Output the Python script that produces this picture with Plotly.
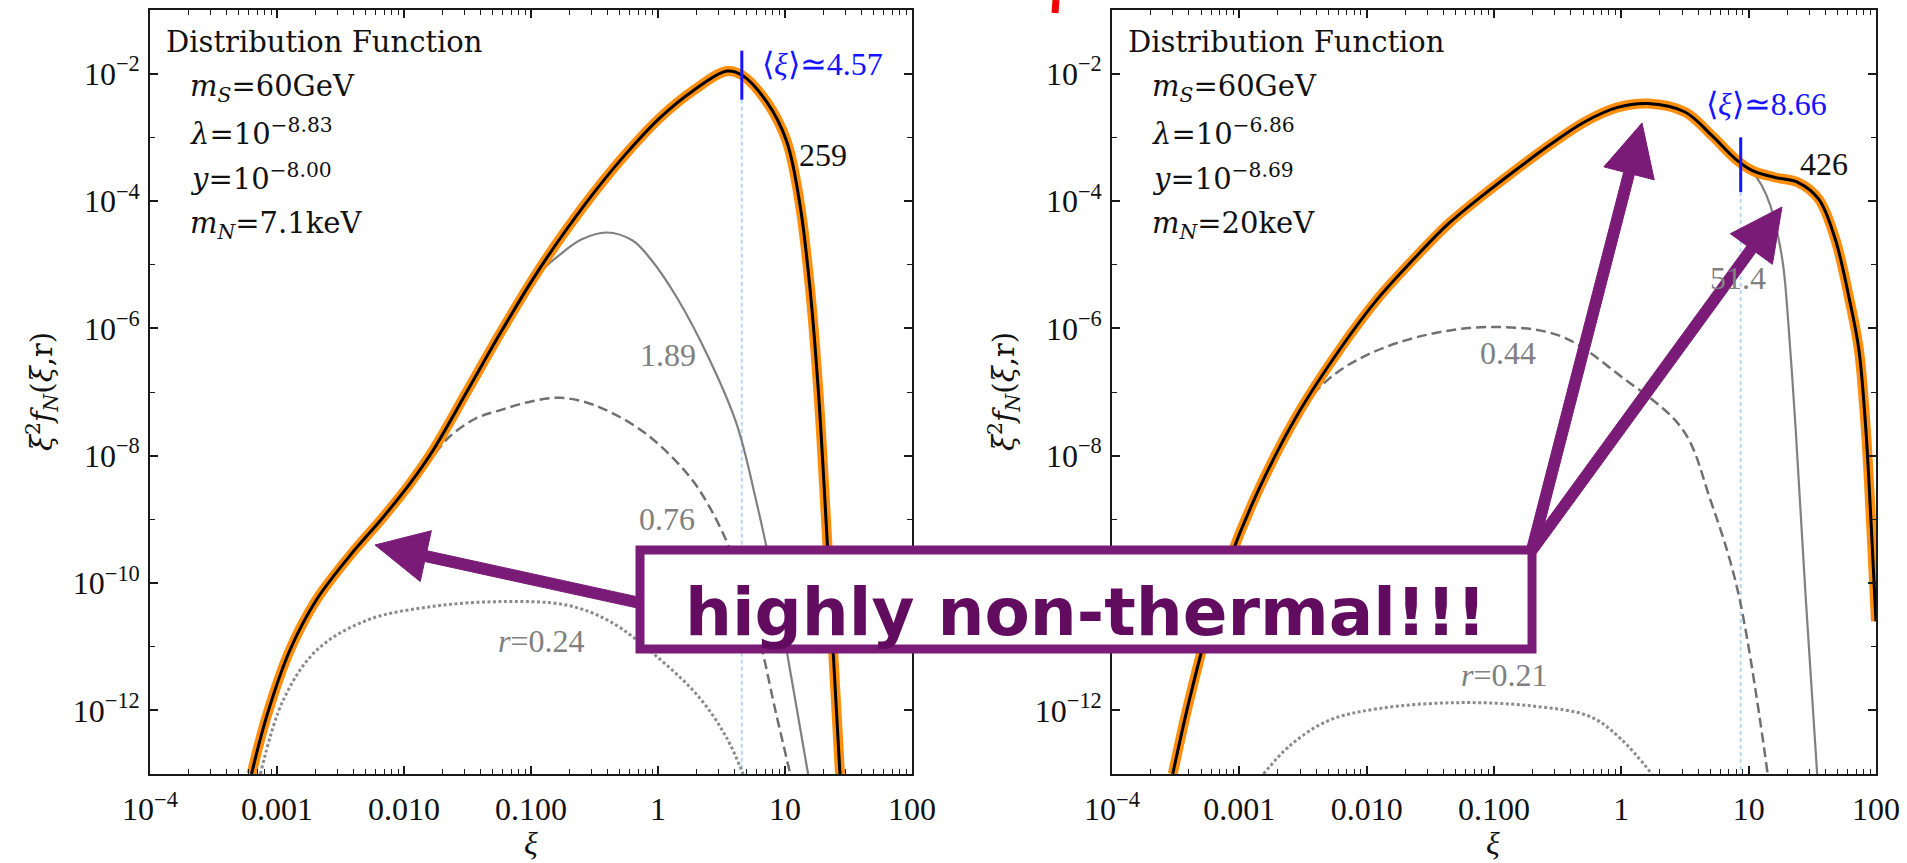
import math
import plotly.graph_objects as go

W, H = 1907, 863

# ---------------- data ----------------
# left panel (m_N = 7.1 keV)
left_main_xi = [6.3e-4, 8.3e-4, 1.26e-3, 2.04e-3, 3.7e-3, 6.9e-3, 1.12e-2, 1.7e-2, 3.1e-2, 5.75e-2,
                0.105, 0.17, 0.31, 0.57, 1.04, 1.89, 3.49, 4.57, 7.18, 10.3, 13.1, 15.7, 18.3, 21.3, 24.0, 27.1]
left_main = [1e-13, 8.1e-13, 8.7e-12, 5.4e-11, 2.6e-10, 1.1e-9, 3.7e-9, 1.23e-8, 9.8e-8, 8.5e-7,
             6.2e-6, 2.6e-5, 1.32e-4, 5.75e-4, 2.04e-3, 5.4e-3, 1.10e-2, 9.5e-3, 3.6e-3, 8.7e-4,
             8.9e-5, 4.4e-6, 1.05e-7, 6.3e-10, 7.6e-12, 1e-13]

left_r189_xi = [6.9e-3, 1.12e-2, 3.1e-2, 5.75e-2, 0.105, 0.17, 0.251, 0.394, 0.631, 0.865, 1.40, 2.57,
                4.17, 5.98, 8.59, 11.6, 15.2]
left_r189 = [1.1e-9, 3.7e-9, 9.8e-8, 8.5e-7, 6.0e-6, 1.45e-5, 2.5e-5, 3.2e-5, 2.4e-5, 1.26e-5, 3.1e-6,
             3.1e-7, 3.1e-8, 1.82e-9, 6.3e-11, 2.24e-12, 1e-13]

left_r076_xi = [3.7e-3, 6.9e-3, 1.12e-2, 1.7e-2, 2.29e-2, 3.63e-2, 5.75e-2, 0.1, 0.17, 0.31, 0.76, 1.70,
                2.57, 3.89, 6.03, 8.51, 11.0]
left_r076 = [2.6e-10, 1.1e-9, 3.5e-9, 1e-8, 2.0e-8, 3.8e-8, 5.2e-8, 7.1e-8, 8.1e-8, 6.3e-8, 2.4e-8, 5.2e-9,
             1.51e-9, 2.6e-10, 1.82e-11, 8.9e-13, 1e-13]

left_r024_xi = [7.4e-4, 1.12e-3, 2.04e-3, 5.1e-3, 1.7e-2, 5.75e-2, 0.19, 0.417, 1.04, 2.14, 3.47, 4.68]
left_r024 = [1e-13, 1.45e-12, 8.7e-12, 2.6e-11, 4.3e-11, 5.1e-11, 4.5e-11, 2.5e-11, 6.3e-12, 1.55e-12,
             3.7e-13, 1e-13]

left_mean = 4.57
left_mean_bar = [0.023, 0.0039]

# right panel (m_N = 20 keV)
right_main_xi = [3.0e-4, 3.98e-4, 5.6e-4, 8.5e-4, 1.48e-3, 2.88e-3, 6.3e-3, 1.2e-2, 2.5e-2, 4.5e-2,
                 8.3e-2, 0.151, 0.282, 0.513, 0.933, 1.62, 3.16, 5.13, 7.85, 10.7, 16.2, 24.5, 35.5,
                 47.9, 61.7, 73.3, 83.2, 91.2, 100.0]
right_main = [1e-13, 1.26e-12, 1.78e-11, 2.5e-10, 3.5e-9, 4.5e-8, 5.0e-7, 2.8e-6, 1.41e-5, 4.6e-5,
              1.26e-4, 3.16e-4, 7.9e-4, 1.74e-3, 2.95e-3, 3.4e-3, 2.5e-3, 1.07e-3, 4.6e-4, 3.0e-4,
              2.34e-4, 1.95e-4, 1.07e-4, 2.5e-5, 2.9e-6, 4.7e-7, 2.6e-8, 1e-9, 2.5e-11]

right_r514_xi = [0.282, 0.513, 0.933, 1.62, 3.16, 5.13, 7.85, 10.9, 12.6, 14.8, 16.6, 18.7, 21.2, 23.4,
                 28.2, 34.5]
right_r514 = [7.9e-4, 1.74e-3, 2.95e-3, 3.4e-3, 2.5e-3, 1.07e-3, 4.6e-4, 2.7e-4, 1.78e-4, 8.5e-5, 3.5e-5,
              9.5e-6, 4.7e-7, 2.6e-8, 5.0e-11, 1e-13]

right_r044_xi = [1.48e-3, 2.88e-3, 5.0e-3, 1e-2, 2.95e-2, 9.8e-2, 0.331, 1.0, 3.02, 5.01, 8.18, 14.1]
right_r044 = [3.5e-9, 4.5e-8, 1.58e-7, 3.8e-7, 7.9e-7, 1.05e-6, 7.6e-7, 1.74e-7, 2.6e-8, 2.0e-9, 7.8e-11,
              1e-13]

right_r021_xi = [1.55e-3, 2.5e-3, 5.0e-3, 1.26e-2, 5.1e-2, 0.2, 0.575, 1.0, 1.74]
right_r021 = [1e-13, 2.8e-13, 6.9e-13, 1.07e-12, 1.32e-12, 1.17e-12, 7.9e-13, 3.5e-13, 1e-13]

right_mean = 8.66
right_mean_bar = [1.0e-3, 1.38e-4]

y_floor = 1e-13

x_tickvals = [1e-4, 1e-3, 1e-2, 1e-1, 1, 10, 100]
x_ticktext = ["10<sup>\u22124</sup>", "0.001", "0.010", "0.100", "1", "10", "100"]
y_tickvals = [1e-12, 1e-10, 1e-8, 1e-6, 1e-4, 1e-2]
y_ticktext = ["10<sup>\u221212</sup>", "10<sup>\u221210</sup>", "10<sup>\u22128</sup>",
              "10<sup>\u22126</sup>", "10<sup>\u22124</sup>", "10<sup>\u22122</sup>"]

left_params = ["<i>m</i><sub><i>S</i></sub>=60GeV", "<i>\u03bb</i>=10<sup>\u22128.83</sup>",
               "<i>y</i>=10<sup>\u22128.00</sup>", "<i>m</i><sub><i>N</i></sub>=7.1keV"]
right_params = ["<i>m</i><sub><i>S</i></sub>=60GeV", "<i>\u03bb</i>=10<sup>\u22126.86</sup>",
                "<i>y</i>=10<sup>\u22128.69</sup>", "<i>m</i><sub><i>N</i></sub>=20keV"]

# ---------------- helpers ----------------
def px(x):
    return x / W


def py(y):
    return 1 - y / H


ORANGE = "rgb(255,136,0)"
GRAY_SOLID = "rgb(128,128,128)"
GRAY_DASH = "rgb(112,112,112)"
GRAY_DOT = "rgb(140,140,140)"
PURPLE = "rgb(122,27,120)"
TEXT_PURPLE = "rgb(98,12,96)"
BLUE = "rgb(20,20,255)"
SMOOTH = 1.0

fig = go.Figure()


def add_panel(xa, ya, dotted, dashed, solid, main, mean, bar):
    common = dict(xaxis=xa, yaxis=ya, mode="lines", showlegend=False, hoverinfo="skip")
    fig.add_trace(go.Scatter(x=[mean, mean], y=[bar[1], y_floor],
                             line=dict(color="rgb(180,215,255)", width=2, dash="4px,3px"), **common))
    fig.add_trace(go.Scatter(x=dotted[0], y=dotted[1], line=dict(color=GRAY_DOT, width=3, dash="3px,2.5px",
                                                                 shape="spline", smoothing=SMOOTH), **common))
    fig.add_trace(go.Scatter(x=dashed[0], y=dashed[1], line=dict(color=GRAY_DASH, width=2.5, dash="10px,5px",
                                                                 shape="spline", smoothing=SMOOTH), **common))
    fig.add_trace(go.Scatter(x=solid[0], y=solid[1], line=dict(color=GRAY_SOLID, width=2.2,
                                                               shape="spline", smoothing=SMOOTH), **common))
    fig.add_trace(go.Scatter(x=main[0], y=main[1], line=dict(color=ORANGE, width=10,
                                                             shape="spline", smoothing=SMOOTH),
                             opacity=0.95, **common))
    fig.add_trace(go.Scatter(x=main[0], y=main[1], line=dict(color="black", width=3,
                                                             shape="spline", smoothing=SMOOTH), **common))
    fig.add_trace(go.Scatter(x=[mean, mean], y=bar, line=dict(color=BLUE, width=3), **common))


add_panel("x", "y", (left_r024_xi, left_r024), (left_r076_xi, left_r076), (left_r189_xi, left_r189),
          (left_main_xi, left_main), left_mean, left_mean_bar)
add_panel("x2", "y2", (right_r021_xi, right_r021), (right_r044_xi, right_r044), (right_r514_xi, right_r514),
          (right_main_xi, right_main), right_mean, right_mean_bar)

x_minor = [k * 10.0 ** d for d in range(-4, 2) for k in range(2, 10)]
y_minor = [10.0 ** d for d in (-13, -11, -9, -7, -5, -3)]

AX = dict(type="log", showgrid=False, zeroline=False, showline=True, linecolor="#1a1a1a", linewidth=1.6,
          mirror="allticks", ticks="inside", ticklen=8, tickwidth=1.5, tickcolor="#1a1a1a",
          tickfont=dict(family="Liberation Serif", size=32, color="#111"), automargin=False)
XAX = dict(AX, range=[-4, 2], tickmode="array", tickvals=x_tickvals, ticktext=x_ticktext,
           ticklabelstandoff=6,
           minor=dict(tickmode="array", tickvals=x_minor, ticks="inside", ticklen=5, tickwidth=1.3,
                      tickcolor="#1a1a1a", showgrid=False))
YAX = dict(AX, range=[-13, -1], tickmode="array", tickvals=y_tickvals, ticktext=y_ticktext,
           ticklabelstandoff=2,
           minor=dict(tickmode="array", tickvals=y_minor, ticks="inside", ticklen=5, tickwidth=1.3,
                      tickcolor="#1a1a1a", showgrid=False))

fig.update_layout(
    width=W, height=H, margin=dict(l=0, r=0, t=0, b=0),
    paper_bgcolor="white", plot_bgcolor="white", showlegend=False,
    xaxis=dict(XAX, domain=[px(150), px(912)], anchor="y"),
    yaxis=dict(YAX, domain=[py(774), py(10)], anchor="x"),
    xaxis2=dict(XAX, domain=[px(1112), px(1876)], anchor="y2"),
    yaxis2=dict(YAX, domain=[py(774), py(10)], anchor="x2"),
)

ann = []


def text(x, y, s, size=32, color="#111", family="Liberation Serif", xanchor="center", yanchor="middle",
         angle=0, weight=None):
    f = dict(family=family, size=size, color=color)
    if weight:
        f["weight"] = weight
    ann.append(dict(x=px(x), y=py(y), xref="paper", yref="paper", text=s, showarrow=False,
                    xanchor=xanchor, yanchor=yanchor, textangle=angle, font=f))


for off, params, mean_lbl, mean_pos, top_lbl, top_pos, glabels in [
    (0, left_params, "\u27e8<i>\u03be</i>\u27e9\u22434.57", (822, 64), "259", (823, 155),
     [("1.89", 668, 355), ("0.76", 667, 519), ("<i>r</i>=0.24", 541, 641)]),
    (962, right_params, "\u27e8<i>\u03be</i>\u27e9\u22438.66", (1766, 104), "426", (1824, 164),
     [("51.4", 1738, 278), ("0.44", 1508, 353), ("<i>r</i>=0.21", 1504, 675)]),
]:
    text(164 + off, 42, "Distribution Function", size=29, family="DejaVu Serif", xanchor="left")
    for s, yy in zip(params, [88, 132, 177, 225]):
        text(188 + off, yy, s, size=29, family="DejaVu Serif", xanchor="left")
    text(mean_pos[0], mean_pos[1], mean_lbl, size=32, color=BLUE)
    text(top_pos[0], top_pos[1], top_lbl, size=32, color="#111")
    for s, xx, yy in glabels:
        text(xx, yy, s, size=32, color="rgb(128,128,128)")
    text(42 + off, 392, "<i>\u03be</i><sup>2</sup><i>f</i><sub><i>N</i></sub>(<i>\u03be</i>,r)",
         size=29, family="DejaVu Serif", angle=-90)
    text(531 + off, 843, "<i>\u03be</i>", size=32)

# ---- hand-drawn overlay: box, arrows ----
shapes = []
shapes.append(dict(type="rect", xref="paper", yref="paper", x0=px(640), x1=px(1532), y0=py(649), y1=py(550),
                   line=dict(color=PURPLE, width=9), fillcolor="white", layer="above"))


def arrow(tail, tip, sw=11, hl=52, hw=52):
    dx, dy = tip[0] - tail[0], tip[1] - tail[1]
    L = math.hypot(dx, dy)
    ux, uy = dx / L, dy / L
    nx, ny = -uy, ux
    bx, by = tip[0] - ux * hl, tip[1] - uy * hl
    pts = [(tail[0] + nx * sw / 2, tail[1] + ny * sw / 2), (bx + nx * sw / 2, by + ny * sw / 2),
           (bx + nx * hw / 2, by + ny * hw / 2), tip, (bx - nx * hw / 2, by - ny * hw / 2),
           (bx - nx * sw / 2, by - ny * sw / 2), (tail[0] - nx * sw / 2, tail[1] - ny * sw / 2)]
    path = "M " + " L ".join(f"{px(a):.5f},{py(b):.5f}" for a, b in pts) + " Z"
    shapes.append(dict(type="path", xref="paper", yref="paper", path=path, fillcolor=PURPLE,
                       line=dict(color=PURPLE, width=1), layer="above"))


arrow((640, 603), (375, 545))
arrow((1532, 550), (1642, 123))
arrow((1532, 550), (1782, 207))

# small red stroke at the top edge
shapes.append(dict(type="path", xref="paper", yref="paper",
                   path=f"M {px(1056):.5f},{py(0):.5f} L {px(1055):.5f},{py(13):.5f}",
                   line=dict(color="rgb(240,0,0)", width=7), layer="above"))

fig.update_layout(shapes=shapes)
text(1085, 612, "highly non-thermal!!!", size=66, color=TEXT_PURPLE, family="DejaVu Sans", weight="bold")
fig.update_layout(annotations=ann)

fig.write_html("out.html")
